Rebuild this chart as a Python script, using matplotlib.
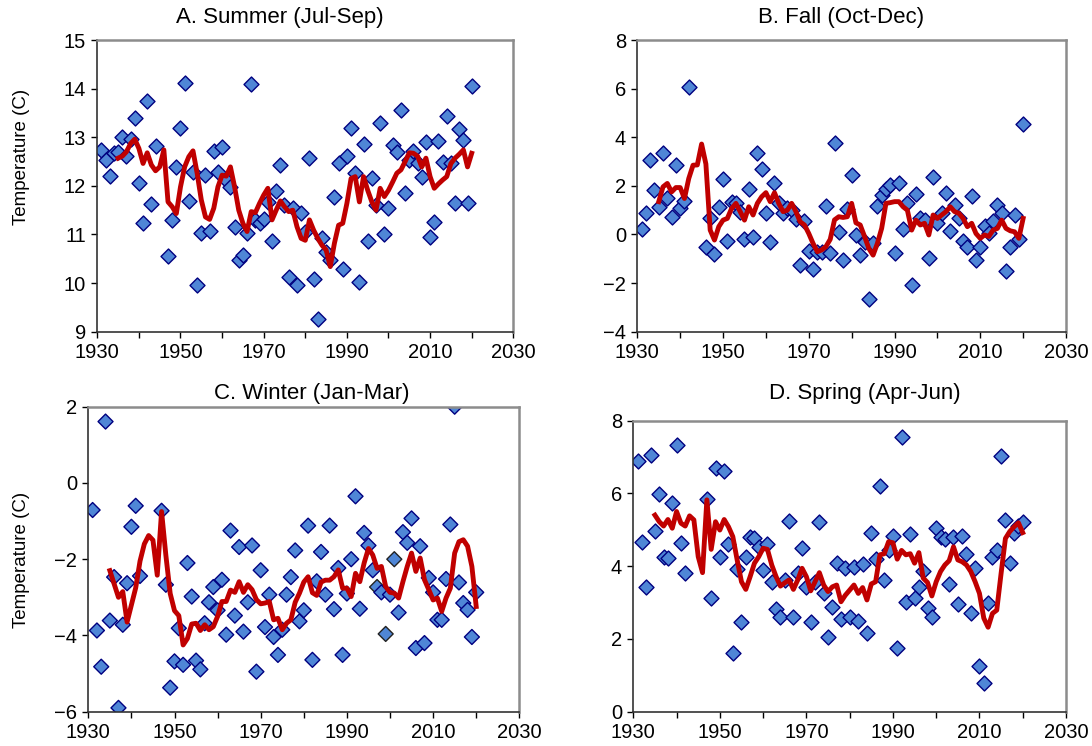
import matplotlib
matplotlib.use("Agg")
import matplotlib.pyplot as plt
from matplotlib.ticker import MultipleLocator

plt.rcParams["font.family"] = ["Liberation Sans", "DejaVu Sans"]

# seasonal mean temperature per year (diamonds)
years_summer = list(range(1931, 1945)) + list(range(1947, 2021))
summer = [12.74, 12.53, 12.20, 12.68, 12.70, 13.01, 12.61, 12.96, 13.39, 12.06, 11.23, 13.75, 11.63, 12.81,
          10.56, 11.30, 12.38, 13.20, 14.12, 11.69, 12.29, 9.96, 11.02, 12.22,
          11.08, 12.72, 12.29, 12.79, 12.12, 11.98, 11.16, 10.47, 10.58, 11.02,
          14.09, 11.30, 11.24, 11.31, 11.67, 10.87, 11.90, 12.43, 11.60, 10.12,
          11.54, 9.96, 11.45, 11.06, 12.57, 10.08, 9.27, 10.92, 10.64, 10.47,
          11.78, 12.46, 10.28, 12.61, 13.20, 12.27, 10.03, 12.87, 10.87, 12.17,
          11.60, 13.29, 11.01, 11.54, 12.84, 12.70, 13.56, 11.85, 12.53, 12.72,
          12.48, 12.19, 12.91, 10.94, 11.26, 12.93, 12.50, 13.44, 12.46, 11.64,
          13.16, 12.94, 11.64, 14.06]

years_fall = list(range(1931, 1943)) + list(range(1946, 2021))
fall = [0.22, 0.89, 3.06, 1.83, 1.14, 3.36, 1.48, 0.70, 2.86, 1.10, 1.39, 6.05,
        -0.53, 0.66, -0.81, 1.14, 2.28, -0.26, 1.35, 1.28, 0.94, -0.19,
        1.85, -0.09, 3.36, 2.68, 0.87, -0.30, 2.10, 1.28, 0.87, 1.07,
        1.00, 0.62, -1.26, 0.57, -0.67, -1.44, -0.71, -0.71, 1.17, -0.75,
        3.77, 0.11, -1.05, 1.03, 2.44, -0.02, -0.85, -0.30, -2.67, -0.37,
        1.17, 1.62, 1.85, 2.03, -0.78, 2.10, 0.21, 1.31, -2.08, 1.65,
        0.66, 0.59, -0.98, 2.38, 0.48, 0.87, 1.69, 0.15, 1.21, 0.66,
        -0.26, -0.53, 1.58, -1.03, -0.53, 0.35, 0.04, 0.57, 1.21, 0.89,
        -1.49, -0.53, 0.80, -0.20, 4.54]

years_winter = list(range(1931, 1943)) + list(range(1947, 2021))
winter = [-0.71, -3.87, -4.82, 1.61, -3.61, -2.47, -5.90, -3.72, -2.63, -1.15, -0.60, -2.44,
          -0.73, -2.67, -5.37, -4.68, -3.81, -4.77, -2.10, -2.98, -4.66, -4.89,
          -3.68, -3.13, -2.73, -3.34, -2.54, -3.98, -1.25, -3.48, -1.68, -3.90,
          -3.13, -1.64, -4.95, -2.29, -3.78, -2.93, -4.04, -4.51, -3.85, -2.93,
          -2.47, -1.77, -3.63, -3.34, -1.12, -4.64, -2.58, -1.81, -2.93, -1.12,
          -3.31, -2.23, -4.51, -2.90, -2.00, -0.35, -3.30, -1.31, -1.64, -2.29,
          -2.73, -2.87, -3.96, -2.93, -2.00, -3.40, -1.29, -1.57, -0.93, -4.33,
          -1.66, -4.20, -2.49, -2.87, -3.59, -3.59, -2.52, -1.09, 2.00, -2.61,
          -3.15, -3.33, -4.04, -2.87]
winter_dark_edge = [1997, 1999, 2001]

years_spring = list(range(1931, 1943)) + list(range(1947, 2021))
spring = [6.89, 4.65, 3.43, 7.05, 4.96, 5.97, 4.26, 4.21, 5.74, 7.33, 4.64, 3.80,
          5.83, 3.13, 6.69, 4.24, 6.62, 4.61, 1.62, 3.91, 2.47, 4.26,
          4.81, 4.78, 4.53, 3.89, 4.61, 3.57, 2.82, 2.59, 3.62, 5.24,
          2.59, 3.82, 4.51, 3.42, 2.47, 3.57, 5.22, 3.25, 2.06, 2.89,
          4.09, 2.56, 3.94, 2.61, 3.98, 2.50, 4.06, 2.15, 4.92, 4.19,
          6.20, 3.62, 4.44, 4.82, 1.74, 7.56, 3.02, 4.88, 3.11, 3.43,
          3.87, 2.84, 2.59, 5.04, 4.79, 4.74, 3.51, 4.81, 2.96, 4.83,
          4.33, 2.70, 3.96, 1.26, 0.78, 2.98, 4.24, 4.44, 7.02, 5.28,
          4.09, 4.90, 5.10, 5.22]

# running mean (red line), 1935-2020
avg_years = list(range(1935, 2021))
summer_avg = [12.57, 12.61, 12.70, 12.87, 12.96, 12.77, 12.46, 12.68, 12.43, 12.31,
              12.39, 12.74, 11.67, 11.57, 11.43, 11.98, 12.39, 12.60, 12.72, 12.26,
              11.71, 11.36, 11.31, 11.54, 11.98, 12.22, 12.20, 12.39, 11.98, 11.50,
              11.23, 11.06, 11.47, 11.45, 11.64, 11.81, 11.95, 11.30, 11.50, 11.69,
              11.57, 11.47, 11.50, 11.16, 10.92, 10.88, 11.30, 11.09, 10.92, 10.78,
              10.68, 10.34, 10.82, 11.19, 11.23, 11.64, 12.15, 12.19, 11.67, 12.19,
              11.91, 11.67, 11.50, 11.95, 11.78, 11.91, 12.08, 12.26, 12.33, 12.50,
              12.68, 12.67, 12.61, 12.39, 12.57, 12.19, 11.95, 12.04, 12.12, 12.19,
              12.46, 12.57, 12.65, 12.74, 12.39, 12.67]
fall_avg = [1.35, 1.96, 2.10, 1.75, 1.93, 1.93, 1.48, 2.30, 2.85, 2.86,
            3.72, 2.90, 0.18, -0.23, 0.32, 0.59, 0.66, 1.07, 1.28, 0.94,
            0.59, 1.14, 0.80, 1.28, 1.55, 1.72, 1.35, 1.72, 1.28, 0.94,
            1.00, 1.28, 0.94, 0.52, 0.39, 0.04, -0.37, -0.71, -0.64, -0.50,
            -0.20, 0.60, 0.73, 0.70, 0.73, 1.28, 0.48, 0.39, -0.08, -0.57,
            -0.85, -0.37, 0.25, 1.28, 1.31, 1.35, 1.35, 1.14, 1.00, 0.18,
            0.59, 0.39, 0.46, -0.02, 0.80, 0.66, 0.80, 0.94, 1.14, 0.94,
            0.87, 0.66, 0.32, 0.46, 0.04, -0.16, -0.02, -0.08, 0.18, 0.25,
            0.59, 0.25, 0.15, 0.11, -0.16, 0.66]
winter_avg = [-2.30, -2.65, -3.00, -2.85, -3.65, -3.20, -2.75, -2.05, -1.60, -1.38,
              -1.50, -2.42, -0.75, -1.90, -2.90, -3.35, -3.48, -4.25, -4.08, -3.70,
              -3.68, -3.87, -3.72, -3.85, -3.77, -3.50, -3.11, -3.11, -2.81, -2.87,
              -2.59, -2.87, -2.67, -2.80, -3.06, -3.17, -3.15, -3.11, -3.59, -3.55,
              -3.85, -3.68, -3.59, -3.13, -2.89, -2.60, -2.46, -2.88, -2.95, -2.60,
              -2.55, -2.55, -2.46, -2.28, -2.76, -2.76, -2.98, -2.37, -2.59, -2.10,
              -1.72, -1.89, -2.24, -2.19, -2.72, -2.87, -2.89, -3.02, -2.59, -2.19,
              -1.84, -2.32, -1.97, -2.54, -2.80, -3.07, -3.02, -3.37, -3.02, -2.76,
              -1.84, -1.54, -1.49, -1.66, -2.19, -3.24]
spring_avg = [5.40, 5.22, 5.10, 5.28, 5.04, 5.50, 5.18, 5.10, 5.38, 5.27,
              4.26, 3.82, 5.82, 4.46, 5.22, 4.99, 5.28, 5.08, 4.81, 4.17,
              3.57, 3.36, 3.71, 4.08, 4.26, 4.49, 4.46, 4.03, 3.71, 3.45,
              3.54, 3.62, 3.36, 3.62, 3.94, 3.71, 3.32, 3.57, 3.82, 3.48,
              3.30, 3.43, 3.48, 3.02, 3.20, 3.34, 3.48, 3.25, 3.41, 3.07,
              3.51, 3.57, 4.31, 4.34, 4.67, 4.64, 4.19, 4.43, 4.31, 4.34,
              4.08, 4.37, 3.67, 3.55, 3.18, 3.57, 3.85, 4.03, 4.15, 4.53,
              4.17, 4.12, 4.03, 3.85, 3.57, 3.25, 2.57, 2.32, 2.70, 2.79,
              3.80, 4.76, 4.95, 5.08, 5.19, 4.92]

year_labels = [1930, 1950, 1970, 1990, 2010, 2030]
year_minor = [1940, 1960, 1980, 2000, 2020]

W, H = 1092, 746
fig = plt.figure(figsize=(W / 100, H / 100), dpi=100)


def add_panel(box, years, temps, avg, ylim, ystep, title, title_xy, ylabel_xy=None, edges=None):
    left, top, right, bottom = box
    ax = fig.add_axes([left / W, 1 - bottom / H, (right - left) / W, (bottom - top) / H])
    ax.scatter(years, temps, marker="D", s=58, facecolor="#4F86D6",
               edgecolor=edges if edges is not None else "#000080", linewidth=1.0, zorder=2)
    ax.plot(avg_years, avg, color="#C00000", linewidth=3.5, solid_joinstyle="round", zorder=3)
    ax.set_xlim(1930, 2030)
    ax.set_ylim(*ylim)
    ax.set_xticks(year_labels)
    ax.set_xticks(year_minor, minor=True)
    ax.yaxis.set_major_locator(MultipleLocator(ystep))
    ax.tick_params(which="both", direction="out", length=4, width=1, labelsize=14.5, pad=4)
    for s in ["top", "right"]:
        ax.spines[s].set_color("#8C8C8C")
        ax.spines[s].set_linewidth(1.8)
    for s in ["left", "bottom"]:
        ax.spines[s].set_color("#333333")
        ax.spines[s].set_linewidth(1.2)
    fig.text(title_xy[0] / W, 1 - title_xy[1] / H, title, ha="center", va="center", fontsize=16)
    if ylabel_xy:
        fig.text(ylabel_xy[0] / W, 1 - ylabel_xy[1] / H, "Temperature (C)", rotation=90,
                 ha="center", va="center", fontsize=13.5)
    return ax


add_panel((97.3, 40, 513.3, 331.7), years_summer, summer, summer_avg, (9, 15), 1,
          "A. Summer (Jul-Sep)", (280, 18), (22, 157))
add_panel((637.3, 40, 1066, 331.7), years_fall, fall, fall_avg, (-4, 8), 2,
          "B. Fall (Oct-Dec)", (841, 18))
winter_edges = ["#222222" if y in winter_dark_edge else "#000080" for y in years_winter]
add_panel((88.3, 406.7, 519.3, 711.7), years_winter, winter, winter_avg, (-6, 2), 2,
          "C. Winter (Jan-Mar)", (312, 393), (22, 560), winter_edges)
add_panel((633.3, 420.5, 1066, 711.7), years_spring, spring, spring_avg, (0, 8), 2,
          "D. Spring (Apr-Jun)", (865, 393))

fig.savefig("out.png", dpi=100)
